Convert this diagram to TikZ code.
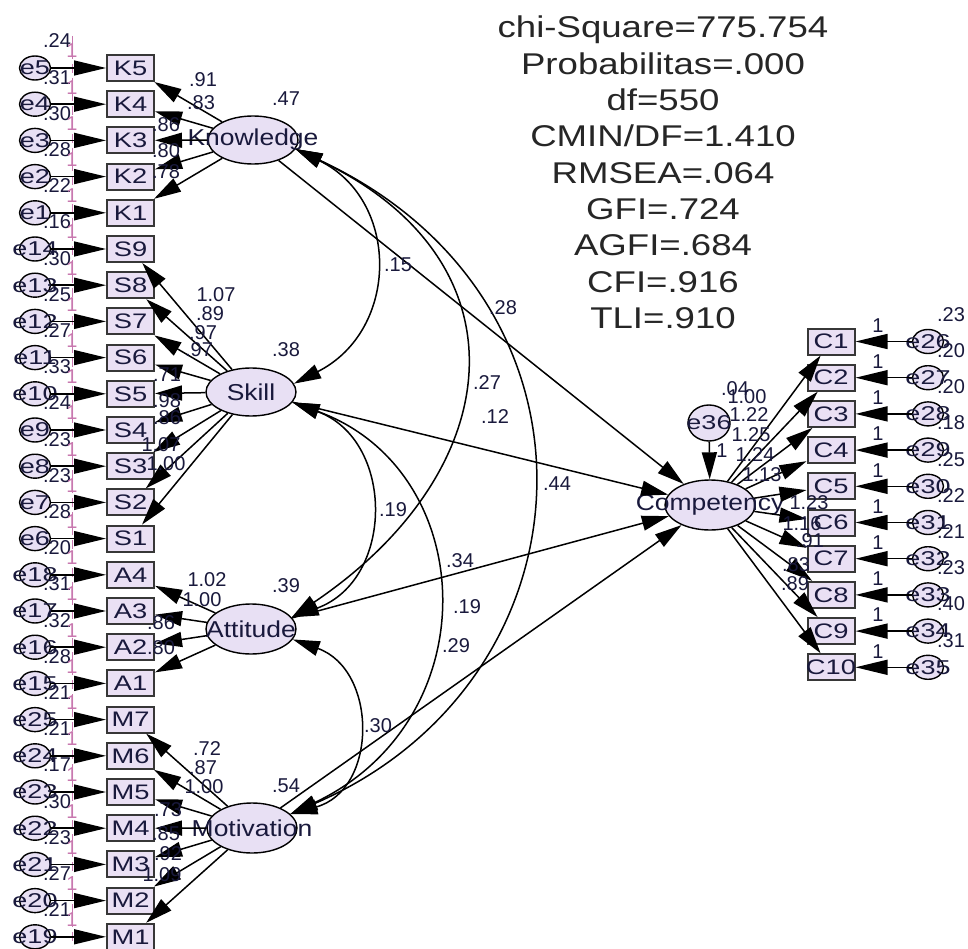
\documentclass[tikz,border=0pt]{standalone}
\usepackage{fontspec}
\setmainfont{Liberation Sans}
\usetikzlibrary{arrows.meta,shapes.geometric}
\definecolor{boxfill}{RGB}{234,224,244}
\definecolor{latfill}{RGB}{232,224,244}
\definecolor{txt}{RGB}{25,25,60}
\definecolor{pinkln}{RGB}{200,120,175}
\definecolor{boxdraw}{RGB}{55,55,55}
\newcommand\sx[2]{\scalebox{#1}[1]{#2}}
\newcommand\zw[1]{\makebox[0pt]{#1}}
\begin{document}
\begin{tikzpicture}[x=1pt,y=-1pt,
  obs/.style={rectangle,draw=boxdraw,line width=2pt,fill=boxfill,minimum width=47pt,minimum height=26pt,inner sep=0pt,font=\fontsize{21}{22}\selectfont,text=txt},
  lat/.style={ellipse,draw=black,line width=1.4pt,fill=latfill,minimum width=90pt,minimum height=48pt,inner sep=0pt,font=\fontsize{23}{25}\selectfont,text=txt},
  err/.style={ellipse,draw=black,line width=1.4pt,fill=latfill,minimum width=31pt,minimum height=24pt,inner sep=0pt,font=\fontsize{20}{22}\selectfont,text=txt},
  num/.style={inner sep=0pt,font=\fontsize{20}{22}\selectfont,text=txt},
  stat/.style={inner sep=0pt,anchor=base,font=\fontsize{30}{34}\selectfont,text=black!85},
  arr/.style={line width=1.5pt,-{Triangle[length=27pt,width=15pt]}},
  arrh/.style={line width=1.5pt,-{Triangle[length=32pt,width=15pt]}},
  cov/.style={line width=1.5pt,{Triangle[length=27pt,width=15pt]}-{Triangle[length=27pt,width=15pt]}},
]
\fill[white] (0,0) rectangle (968,949);
\useasboundingbox (0,0) rectangle (968,949);

% dashed guide line
\coordinate (dtop) at (72,36);
\coordinate (dbot) at (72,946);
\draw[pinkln,line width=1pt,dash pattern=on 9pt off 5pt] (dtop) -- (dbot);

% statistics
\node[stat] (st1) at (663,38) {\sx{1.22}{chi-Square=775.754}};
\node[stat] (st2) at (663,74.3) {\sx{1.22}{Probabilitas=.000}};
\node[stat] (st3) at (663,110.6) {\sx{1.22}{df=550}};
\node[stat] (st4) at (663,146.9) {\sx{1.22}{CMIN/DF=1.410}};
\node[stat] (st5) at (663,183.2) {\sx{1.22}{RMSEA=.064}};
\node[stat] (st6) at (663,219.5) {\sx{1.22}{GFI=.724}};
\node[stat] (st7) at (663,255.8) {\sx{1.22}{AGFI=.684}};
\node[stat] (st8) at (663,292.1) {\sx{1.22}{CFI=.916}};
\node[stat] (st9) at (663,328.4) {\sx{1.22}{TLI=.910}};

% left indicators
\foreach \b/\e/\v [count=\i from 0] in {K5/e5/.24, K4/e4/.31, K3/e3/.30, K2/e2/.28, K1/e1/.22, S9/e14/.16, S8/e13/.30, S7/e12/.25, S6/e11/.27, S5/e10/.33, S4/e9/.24, S3/e8/.23, S2/e7/.23, S1/e6/.28, A4/e18/.20, A3/e17/.31, A2/e16/.32, A1/e15/.28, M7/e25/.21, M6/e24/.21, M5/e23/.17, M4/e22/.30, M3/e21/.23, M2/e20/.27, M1/e19/.21}{
  \pgfmathsetmacro\yy{68+36.2*\i}
  \node[obs] (\b) at (130.5,\yy) {\zw{\sx{1.3}{\b}}};
  \node[err] (\e) at (35,\yy) {\zw{\sx{1.35}{\e}}};
  \draw[arrh] (\e) -- (\b);
  \node[num] (v\e) at (57,\yy-27) {\v};
  \node[num,text=pinkln] (one\e) at (72,\yy-17) {1};
}

% right indicators
\foreach \b/\e/\v [count=\i from 0] in {C1/e26/.23, C2/e27/.20, C3/e28/.20, C4/e29/.18, C5/e30/.25, C6/e31/.22, C7/e32/.21, C8/e33/.23, C9/e34/.40, C10/e35/.31}{
  \pgfmathsetmacro\yy{341.5+36.2*\i}
  \node[obs] (\b) at (831,\yy) {\zw{\sx{1.3}{\b}}};
  \node[err] (\e) at (928,\yy) {\zw{\sx{1.35}{\e}}};
  \draw[arrh] (\e) -- (\b);
  \node[num] (v\e) at (951,\yy-27) {\v};
  \node[num] (one\e) at (878,\yy-16) {1};
}

% latents
\node[lat] (Kn) at (253,140) {\zw{\sx{1.15}{Knowledge}}};
\node[lat] (Sk) at (251,392) {\zw{\sx{1.15}{Skill}}};
\node[lat,minimum height=50pt] (At) at (251,629) {\zw{\sx{1.15}{Attitude}}};
\node[lat,minimum height=50pt] (Mo) at (252,828) {\zw{\sx{1.15}{Motivation}}};
\node[lat,minimum height=50pt] (Co) at (710,505) {\zw{\sx{1.15}{Competency}}};
\node[err,minimum width=42pt,minimum height=36pt] (e36) at (709,423) {\zw{\sx{1.35}{e36}}};

% loadings
\foreach \b in {K5,K4,K3,K2,K1} \draw[arr] (Kn) -- (\b);
\foreach \b in {S9,S8,S7,S6,S5,S4,S3,S2,S1} \draw[arr] (Sk) -- (\b);
\foreach \b in {A4,A3,A2,A1} \draw[arr] (At) -- (\b);
\foreach \b in {M7,M6,M5,M4,M3,M2,M1} \draw[arr] (Mo) -- (\b);
\foreach \b in {C1,C2,C3,C4,C5,C6,C7,C8,C9,C10} \draw[arr] (Co) -- (\b);
\draw[arr] (e36) -- (Co);

% structural paths
\draw[arr] (Kn) -- (Co);
\draw[arr] (Sk) -- (Co);
\draw[arr] (At) -- (Co);
\draw[arr] (Mo) -- (Co);

% covariances
\draw[cov] (Kn.-12) .. controls (400,200) and (400,330) .. (Sk.11);
\draw[cov] (Kn.-12) .. controls (530,260) and (510,470) .. (At.16);
\draw[cov] (Kn.-12) .. controls (620,300) and (600,680) .. (Mo.20);
\draw[cov] (Sk.-14) .. controls (395,440) and (395,580) .. (At.16);
\draw[cov] (Sk.-14) .. controls (480,470) and (490,720) .. (Mo.20);
\draw[cov] (At.-14) .. controls (378,670) and (378,790) .. (Mo.20);

% labels
\foreach \px/\py/\t [count=\k] in {
 203/80/.91, 201/103/.83, 166/125/.86, 166/151/.80, 166/172/.78,
 216/295/1.07, 210/314/.89, 203/333/.97, 199/350/.97, 167/375/.71, 167/401/.98, 167/418/.86, 161/445/1.07, 166/464/1.00,
 207/580/1.02, 202/600/1.00, 161/623/.86, 161/648/.80,
 207/749/.72, 203/768/.87, 204/787/1.00, 168/810/.73, 166/834/.85, 168/854/.92, 162/875/1.09,
 747/397/1.00, 749/415/1.22, 751/435/1.25, 755/455/1.24, 762/475/1.13, 809/503/1.23, 802/524/1.16, 810/541/.91, 796/565/.83, 795/584/.89,
 735/389/.04, 722/451/1,
 398/265/.15, 503/308/.28, 487/383/.27, 495/417/.12, 557/484/.44, 393/510/.19, 460/561/.34, 467/607/.19, 456/646/.29, 378/726/.30,
 286/99/.47, 286/350/.38, 286/586/.39, 286/786/.54}
 \node[num] (lab\k) at (\px,\py) {\t};
\end{tikzpicture}
\end{document}
